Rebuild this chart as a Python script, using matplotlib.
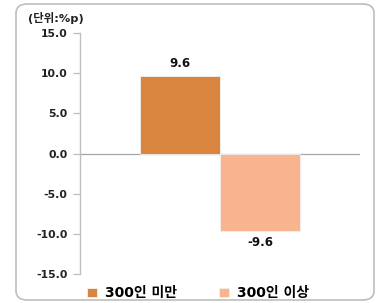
import matplotlib.pyplot as plt
from matplotlib.patches import FancyBboxPatch

# chart data
series = ['300인 미만', '300인 이상']
values = [9.6, -9.6]
colors = ['#D9843F', '#F8B48F']
yticks = [-15.0, -10.0, -5.0, 0.0, 5.0, 10.0, 15.0]

plt.rcParams['font.family'] = ['DejaVu Sans', 'Noto Sans CJK KR']

fig = plt.figure(figsize=(3.77, 3.03), dpi=100)
ax = fig.add_axes([80 / 377, 1 - 274 / 303, 280 / 377, 241 / 303])

# rounded outer frame
frame = FancyBboxPatch((16 / 377, 3 / 303), 358 / 377, 296 / 303,
                       boxstyle='round,pad=0,rounding_size=0.03',
                       transform=fig.transFigure, facecolor='none',
                       edgecolor='#BDBDBD', linewidth=1.2, zorder=0)
fig.patches.append(frame)

width = 0.286
xpos = [-width / 2, width / 2]
bars = ax.bar(xpos, values, width=width, color=colors, label=series,
              edgecolor='#F2F2F2', linewidth=0.6, zorder=3)

for x, v in zip(xpos, values):
    off = 1.6 if v > 0 else -1.5
    ax.text(x, v + off, f'{v:.1f}', ha='center', va='center',
            fontsize=8.5, fontweight='bold', color='#111111')

ax.set_xlim(-0.5, 0.5)
ax.set_ylim(-15, 15)
ax.set_yticks(yticks)
ax.set_yticklabels([f'{t:.1f}' for t in yticks], fontsize=7.8,
                   fontweight='bold', color='#222222')
ax.set_xticks([])
ax.axhline(0, color='#A6A6A6', linewidth=0.9, zorder=2)

for s in ['top', 'right', 'bottom']:
    ax.spines[s].set_visible(False)
ax.spines['left'].set_color('#BFBFBF')
ax.spines['left'].set_linewidth(1.0)
ax.tick_params(axis='y', length=5, width=0.9, color='#BFBFBF', pad=4)

fig.text(28 / 377, 1 - 18 / 303, '(단위:%p)', fontsize=8.2,
         fontweight='bold', va='center', ha='left', color='#222222')

ax.legend(bars, series, loc='center left', bbox_to_anchor=(0.0, -0.08),
          ncol=2, frameon=False, handlelength=0.75,
          handleheight=0.55, columnspacing=3.0, handletextpad=0.55,
          borderpad=0, prop={'weight': 'bold', 'size': 10})

fig.savefig('out.png', dpi=100)
